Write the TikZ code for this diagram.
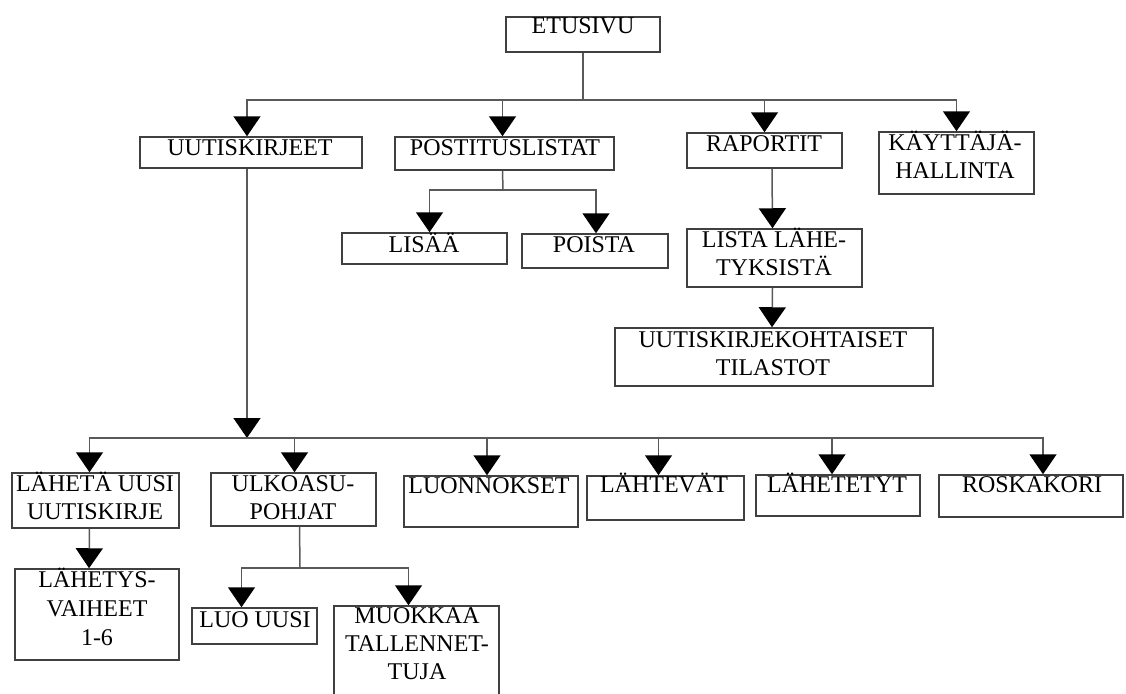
\documentclass[tikz,border=0pt]{standalone}
\usepackage{fontspec}
\setmainfont{Liberation Serif}
\usetikzlibrary{arrows.meta}

% multi-line label whose baseline is the first line
\newcommand\stack[1]{\begin{tabular}[t]{@{}c@{}}#1\end{tabular}}

\begin{document}
\begin{tikzpicture}[x=1pt,y=-1pt,
  box/.style={draw=black!75,line width=1.5pt,inner sep=0pt},
  txt/.style={anchor=base,inner sep=0pt,font=\fontsize{24}{28}\selectfont,text=black},
  wire/.style={draw=black!65,line width=1.5pt},
  arr/.style={wire,-{Triangle[width=27pt,length=20pt,color=black]}}]

\useasboundingbox[fill=white] (0,0) rectangle (1126,693);

% boxes: corner to corner
\newcommand\boxat[5]{\node[box,minimum width={#4-#2},minimum height={#5-#3}] (#1) at ({(#2+#4)/2},{(#3+#5)/2}) {};}
\boxat{etusivu}{506}{17}{660}{52}
\boxat{uutis}{140}{137}{362}{168}
\boxat{post}{395}{137}{614}{170}
\boxat{rap}{687}{133}{842}{168}
\boxat{kayt}{879}{132}{1034}{194}
\boxat{lisaa}{342}{233}{507}{264}
\boxat{poista}{522}{234}{668}{268}
\boxat{lista}{687}{229}{862}{287}
\boxat{tilastot}{615}{328}{933}{386}
\boxat{laheta}{12}{473}{179}{528}
\boxat{ulko}{211}{473}{376}{526}
\boxat{luonn}{404}{476}{578}{527}
\boxat{lahtev}{587}{476}{744}{520}
\boxat{lahetet}{756}{475}{920}{516}
\boxat{rosk}{939}{475}{1123}{517}
\boxat{vaiheet}{15}{569}{179}{660}
\boxat{luo}{192}{608}{317}{644}
\boxat{muok}{334}{606}{499}{706}

% labels
\node[txt] (t-etusivu) at (583,34) {ETUSIVU};
\node[txt] (t-uutis) at (250,155) {UUTISKIRJEET};
\node[txt] (t-post) at (505,155) {POSTITUSLISTAT};
\node[txt] (t-rap) at (764,151) {RAPORTIT};
\node[txt] (t-kayt) at (955,150) {\stack{KÄYTTÄJÄ-\\HALLINTA}};
\node[txt] (t-lisaa) at (424,252) {LISÄÄ};
\node[txt] (t-poista) at (594,252) {POISTA};
\node[txt] (t-lista) at (774,247) {\stack{LISTA LÄHE-\\TYKSISTÄ}};
\node[txt] (t-tilastot) at (773,347) {\stack{UUTISKIRJEKOHTAISET\\TILASTOT}};
\node[txt] (t-laheta) at (95,491) {\stack{LÄHETÄ UUSI\\UUTISKIRJE}};
\node[txt] (t-ulko) at (293,491) {\stack{ULKOASU-\\POHJAT}};
\node[txt] (t-luonn) at (489,493) {LUONNOKSET};
\node[txt] (t-lahtev) at (664,492) {LÄHTEVÄT};
\node[txt] (t-lahetet) at (837,492) {LÄHETETYT};
\node[txt] (t-rosk) at (1032,492) {ROSKAKORI};
\node[txt,font=\fontsize{24}{29}\selectfont] (t-vaiheet) at (97,587) {\stack{LÄHETYS-\\VAIHEET\\1-6}};
\node[txt] (t-luo) at (255,627) {LUO UUSI};
\node[txt] (t-muok) at (417,623) {\stack{MUOKKAA\\TALLENNET-\\TUJA}};

% junction points of the buses
\coordinate (busA) at (583,100);
\coordinate (busP) at (503,190);
\coordinate (busB) at (247,438);
\coordinate (busU) at (300,568);

% top level
\draw[wire] (etusivu.south) -- (busA);
\draw[arr] (busA) -| ([xshift=-4pt]uutis.north);
\draw[arr] (busA) -| ([xshift=-2pt]post.north);
\draw[arr] (busA) -| (rap.north);
\draw[arr] (busA) -| (kayt.north);

% POSTITUSLISTAT
\draw[wire] ([xshift=-2pt]post.south) -- (busP);
\draw[arr] (busP) -| ([xshift=5pt]lisaa.north);
\draw[arr] (busP) -| ([xshift=1pt]poista.north);

% RAPORTIT
\draw[arr] (rap.south -| 772,0) -- ([xshift=-2pt]lista.north);
\draw[arr] ([xshift=-2pt]lista.south) -- ([xshift=-2pt]tilastot.north);

% UUTISKIRJEET
\draw[arr] ([xshift=-4pt]uutis.south) -- (busB);
\draw[arr] (busB) -| ([xshift=-6pt]laheta.north);
\draw[arr] (busB) -| ([xshift=1pt]ulko.north);
\draw[arr] (busB) -| ([xshift=-4pt]luonn.north);
\draw[arr] (busB) -| ([xshift=-7pt]lahtev.north);
\draw[arr] (busB) -| ([xshift=-6pt]lahetet.north);
\draw[arr] (busB) -| ([xshift=12pt]rosk.north);

% LÄHETÄ UUSI UUTISKIRJE
\draw[arr] ([xshift=-6pt]laheta.south) -- ([xshift=-8pt]vaiheet.north);

% ULKOASUPOHJAT
\draw[wire] ([xshift=6pt]ulko.south) -- (busU);
\draw[arr] (busU) -| ([xshift=-13pt]luo.north);
\draw[arr] (busU) -| ([xshift=-8pt]muok.north);
\end{tikzpicture}
\end{document}
